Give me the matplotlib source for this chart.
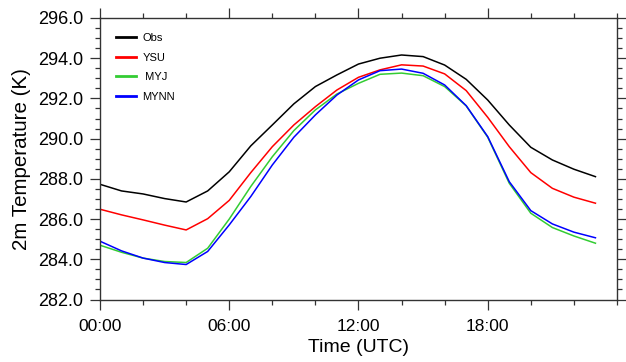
import matplotlib
matplotlib.use("Agg")
import matplotlib.pyplot as plt
from matplotlib.ticker import MultipleLocator, FixedLocator

plt.rcParams['font.family'] = ['Liberation Sans', 'DejaVu Sans']

hours = list(range(24))
obs = [287.73, 287.40, 287.25, 287.02, 286.85, 287.40, 288.35, 289.64, 290.68, 291.73,
       292.59, 293.17, 293.71, 294.00, 294.16, 294.08, 293.66, 292.95, 291.92, 290.68,
       289.57, 288.94, 288.48, 288.11]
ysu = [286.49, 286.21, 285.96, 285.70, 285.46, 286.02, 286.93, 288.31, 289.60, 290.68,
       291.59, 292.42, 293.05, 293.42, 293.67, 293.61, 293.22, 292.39, 291.06, 289.60,
       288.31, 287.53, 287.09, 286.79]
myj = [284.70, 284.35, 284.06, 283.89, 283.84, 284.55, 286.00, 287.62, 289.10, 290.40,
       291.43, 292.22, 292.75, 293.20, 293.26, 293.13, 292.59, 291.63, 290.07, 287.78,
       286.29, 285.58, 285.16, 284.80]
mynn = [284.90, 284.42, 284.06, 283.84, 283.74, 284.39, 285.71, 287.12, 288.69, 290.07,
        291.18, 292.17, 292.92, 293.38, 293.46, 293.25, 292.67, 291.64, 290.10, 287.86,
        286.42, 285.76, 285.35, 285.07]
labels = ["Obs", "YSU", " MYJ", "MYNN"]
colors = ["black", "red", "#33cc33", "blue"]
xtick_pos = [0, 6, 12, 18]
xtick_labels = ["00:00", "06:00", "12:00", "18:00"]

fig = plt.figure(figsize=(6.26, 3.62), dpi=100)
ax = fig.add_axes([0.1597, 0.1726, 0.8259, 0.7777])

for series, lab, col in zip([obs, ysu, myj, mynn], labels, colors):
    ax.plot(hours, series, color=col, lw=1.1, label=lab)

ax.set_xlim(0, 24)
ax.set_ylim(282, 296)
ax.xaxis.set_major_locator(FixedLocator(xtick_pos))
ax.set_xticklabels(xtick_labels)
ax.xaxis.set_minor_locator(MultipleLocator(2))
ax.yaxis.set_major_locator(MultipleLocator(2))
ax.yaxis.set_minor_locator(MultipleLocator(0.5))
ax.yaxis.set_major_formatter(matplotlib.ticker.FormatStrFormatter('%.1f'))

ax.tick_params(which='both', direction='out', top=True, right=True,
               labeltop=False, labelright=False, width=0.9, color='#333333')
ax.tick_params(which='major', length=7.2)
ax.tick_params(which='minor', length=3.6)
ax.tick_params(axis='y', which='major', labelsize=13, pad=5)
ax.tick_params(axis='x', which='major', labelsize=12.5, pad=6.5)
for s in ax.spines.values():
    s.set_linewidth(1.0)
    s.set_color('#333333')

ax.set_xlabel("Time (UTC)", fontsize=14, labelpad=4)
ax.set_ylabel("2m Temperature (K)", fontsize=14.8, labelpad=5)

leg = ax.legend(loc='upper left', bbox_to_anchor=(0.01, 0.985), frameon=False,
                fontsize=8, handlelength=1.8, handletextpad=0.55, labelspacing=0.85,
                borderaxespad=0.6)
for line in leg.get_lines():
    line.set_linewidth(2.0)

fig.savefig("out.png", dpi=100)
